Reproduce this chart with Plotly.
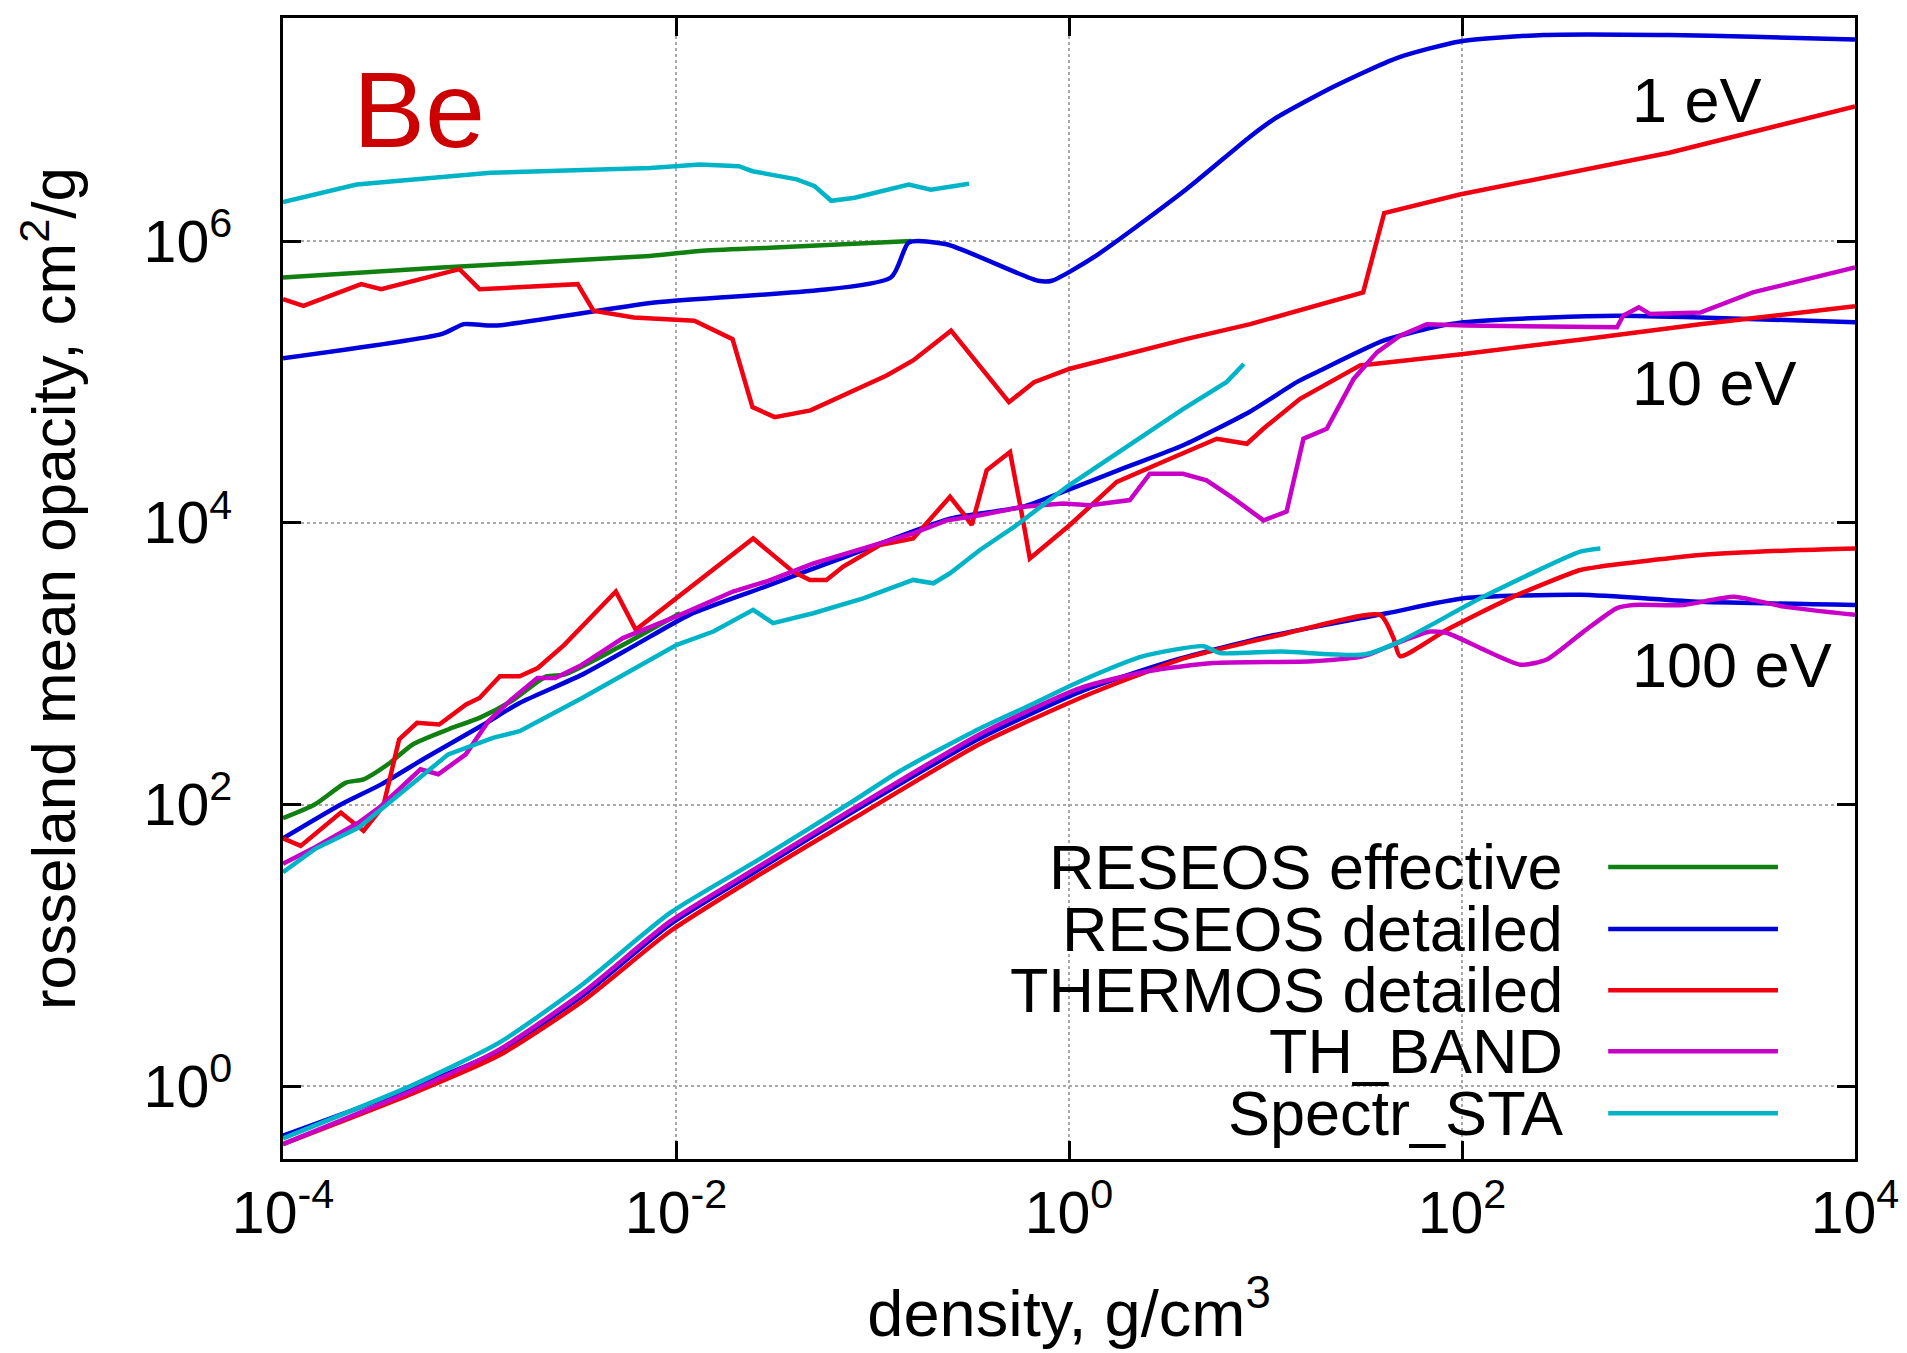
import plotly.graph_objects as go

# ---------------- data ----------------
# density in g/cm^3, Rosseland mean opacity in cm^2/g

# ===== T = 1 eV =====
eff_1_rho = [1e-4, 6.43e-4, 7.36e-3, 1.32e-2, 3.0e-2, 0.158]
eff_1_kap = [5.51e5, 6.49e5, 7.83e5, 8.51e5, 8.97e5, 1.0e6]

det_1_rho = [1e-4, 6.46e-4, 8.32e-4, 1.2e-3, 7.41e-3, 0.124, 0.153, 0.238, 0.695, 0.818,
             1.37, 3.94, 8.34, 11.2, 22.3, 46.6, 97.3, 259, 1135, 3040, 1e4]
det_1_kap = [1.47e5, 2.19e5, 2.57e5, 2.51e5, 3.63e5, 5.51e5, 9.77e5, 9.48e5, 5.22e5, 5.22e5,
             7.85e5, 2.32e6, 5.5e6, 7.41e6, 1.25e7, 1.99e7, 2.61e7, 2.9e7, 2.9e7, 2.82e7, 2.69e7]

thm_1_rho = [1e-4, 1.27e-4, 2.5e-4, 3.16e-4, 7.91e-4, 1e-3, 3.16e-3, 3.8e-3, 6.1e-3, 1.24e-2,
             1.94e-2, 2.45e-2, 3.18e-2, 4.84e-2, 0.118, 0.161, 0.251, 0.495, 0.664, 1.01,
             3.93, 8.36, 31.4, 40.2, 97.3, 1135, 1e4]
thm_1_kap = [3.86e5, 3.47e5, 4.94e5, 4.55e5, 6.31e5, 4.55e5, 4.94e5, 3.2e5, 2.87e5, 2.72e5,
             2.01e5, 6.62e4, 5.62e4, 6.28e4, 1.11e5, 1.42e5, 2.31e5, 7.18e4, 9.95e4, 1.24e5,
             2.01e5, 2.57e5, 4.32e5, 1.58e6, 2.14e6, 4.23e6, 9.04e6]

sta_1_rho = [1e-4, 2.37e-4, 1.14e-3, 7.4e-3, 1.32e-2, 2.09e-2, 2.45e-2, 4.12e-2, 5.08e-2,
             6.17e-2, 8.13e-2, 0.153, 0.198, 0.31]
sta_1_kap = [1.89e6, 2.52e6, 3.05e6, 3.30e6, 3.49e6, 3.40e6, 3.13e6, 2.74e6, 2.45e6,
             1.93e6, 2.03e6, 2.52e6, 2.31e6, 2.55e6]

# ===== T = 10 eV =====
eff_10_rho = [1e-4, 1.45e-4, 2.09e-4, 2.57e-4, 3.51e-4, 4.57e-4, 6.92e-4, 1e-3, 1.45e-3,
              2.19e-3, 2.7e-3, 5.01e-3, 1.05e-2]
eff_10_kap = [80, 100, 143, 151, 198, 267, 341, 412, 541, 813, 836, 1290, 2280]

det_10_rho = [1e-4, 1.97e-4, 3.16e-4, 5.32e-4, 1.05e-3, 1.6e-3, 3.33e-3, 6.24e-3, 1.17e-2,
              2.7e-2, 7.67e-2, 0.248, 0.583, 0.975, 1.97, 3.81, 8.36, 14.5, 18.2, 39.8,
              71.6, 102, 281, 615, 1630, 1e4]
det_10_kap = [57.5, 100, 139, 215, 370, 526, 836, 1360, 2220, 3430, 5900, 1.07e4, 1.3e4,
              1.7e4, 2.49e4, 3.55e4, 6.17e4, 1.0e5, 1.17e5, 1.96e5, 2.44e5, 2.65e5,
              2.87e5, 2.95e5, 2.87e5, 2.65e5]

thm_10_rho = [1e-4, 1.23e-4, 1.97e-4, 2.31e-4, 2.57e-4, 3.24e-4, 3.9e-4, 4.81e-4, 6.24e-4,
              8.55e-4, 1e-3, 1.27e-3, 1.6e-3, 1.98e-3, 2.7e-3, 4.94e-3, 6.24e-3, 2.47e-2,
              3.94e-2, 4.8e-2, 5.83e-2, 7.1e-2, 0.109, 0.161, 0.248, 0.29, 0.32, 0.381,
              0.501, 0.585, 0.632, 1.01, 1.75, 3.14, 5.65, 8.04, 9.75, 15.0, 30.3, 35.5,
              102, 416, 1630, 1e4]
thm_10_kap = [57.5, 50.9, 87.7, 72.4, 65, 97.7, 290, 380, 370, 513, 571, 813, 813, 931,
              1360, 3250, 1740, 7740, 4500, 3930, 3930, 4890, 6950, 7740, 1.53e4, 1.16e4,
              9640, 2.36e4, 3.18e4, 1.02e4, 5580, 9640, 1.95e4, 2.78e4, 3.95e4, 3.64e4,
              4.65e4, 7.59e4, 1.31e5, 1.34e5, 1.58e5, 2.01e5, 2.57e5, 3.44e5]

band_10_rho = [1e-4, 1.45e-4, 2.43e-4, 3.16e-4, 5.01e-4, 6.17e-4, 8.51e-4, 1.11e-3, 1.45e-3,
               1.97e-3, 2.43e-3, 3.33e-3, 5.37e-3, 1.05e-2, 1.95e-2, 2.88e-2, 5.01e-2,
               8.97e-2, 0.161, 0.239, 0.352, 0.585, 0.933, 1.28, 2.04, 2.58, 3.8, 5.01,
               6.87, 9.77, 12.8, 15.6, 20.5, 28.1, 36.9, 48.4, 66.2, 106, 615, 661, 794,
               908, 1630, 3020, 1e4]
band_10_kap = [38, 49.5, 74.5, 97.7, 178, 164, 227, 391, 556, 791, 791, 984, 1520, 2220,
               3250, 3830, 5150, 6580, 8410, 1.04e4, 1.13e4, 1.3e4, 1.37e4, 1.33e4, 1.45e4,
               2.23e4, 2.23e4, 2.0e4, 1.49e4, 1.04e4, 1.2e4, 3.95e4, 4.65e4, 1.05e5, 1.62e5,
               2.13e5, 2.57e5, 2.51e5, 2.44e5, 2.95e5, 3.38e5, 3.03e5, 3.11e5, 4.32e5, 6.49e5]

sta_10_rho = [1e-4, 1.45e-4, 2.43e-4, 6.93e-4, 1.17e-3, 1.6e-3, 3.33e-3, 5.82e-3, 1.01e-2,
              1.55e-2, 2.47e-2, 3.12e-2, 4.99e-2, 8.97e-2, 0.161, 0.204, 0.248, 0.352,
              0.542, 0.975, 3.82, 6.35, 7.76]
sta_10_kap = [33.1, 48.3, 68.7, 227, 297, 332, 571, 881, 1360, 1690, 2410, 1940, 2280,
              2910, 3930, 3720, 4380, 6410, 9640, 1.8e4, 6.44e4, 1.0e5, 1.34e5]

# ===== T = 100 eV =====
det_100_rho = [1e-4, 4.57e-4, 1.26e-3, 3.39e-3, 9.33e-3, 2.57e-2, 7.98e-2, 0.352, 1.14,
               3.16, 10, 41.5, 102, 400, 1630, 1e4]
det_100_kap = [0.447, 0.977, 1.78, 4.47, 14.1, 33.9, 89.1, 295, 631, 1020, 1550, 2280,
               2910, 3080, 2750, 2610]

thm_100_rho = [1e-4, 4.57e-4, 1.26e-3, 3.39e-3, 9.33e-3, 2.57e-2, 7.98e-2, 0.352, 1.14,
               2.05, 3.67, 6.11, 11.9, 38.3, 44.8, 48.4, 83.8, 183, 400, 506, 1630, 5270, 1e4]
thm_100_kap = [0.389, 0.891, 1.66, 4.07, 12.6, 30.9, 79.4, 269, 571, 791, 1070, 1290, 1600,
               2220, 1520, 1130, 1740, 2990, 4620, 4890, 5900, 6410, 6580]

band_100_rho = [1e-4, 4.57e-4, 1.26e-3, 3.39e-3, 9.33e-3, 2.57e-2, 7.98e-2, 0.352, 1.14,
                2.49, 5.43, 17.5, 31.6, 46.7, 68.9, 83.8, 124, 198, 270, 416, 615, 746,
                1340, 2420, 4340, 1e4]
band_100_kap = [0.389, 0.933, 1.82, 4.68, 14.8, 35.5, 93.3, 316, 671, 881, 1010, 1040, 1130,
                1400, 1690, 1650, 1290, 984, 1070, 1690, 2480, 2610, 2610, 2990, 2540, 2220]

sta_100_rho = [1e-4, 4.57e-4, 1.26e-3, 3.39e-3, 9.33e-3, 2.57e-2, 7.98e-2, 0.138, 0.352,
               0.622, 1.14, 2.39, 4.83, 5.87, 11.9, 31.6, 48.4, 124, 400, 506]
sta_100_kap = [0.427, 1.02, 2.04, 5.37, 17.0, 39.8, 106, 173, 347, 501, 750, 1130, 1330,
               1190, 1220, 1160, 1440, 2910, 6240, 6580]

# legend / model names and temperature labels
model_names = ["RESEOS effective", "RESEOS detailed", "THERMOS detailed", "TH_BAND", "Spectr_STA"]
temp_labels = ["1 eV", "10 eV", "100 eV"]
x_tick_vals = [1e-4, 1e-2, 1e0, 1e2, 1e4]
x_tick_text = ["10<sup>-4</sup>", "10<sup>-2</sup>", "10<sup>0</sup>", "10<sup>2</sup>", "10<sup>4</sup>"]
y_tick_vals = [1e0, 1e2, 1e4, 1e6]
y_tick_text = ["10<sup>0</sup>", "10<sup>2</sup>", "10<sup>4</sup>", "10<sup>6</sup>"]

# ---------------- styling ----------------
colors = {
    "RESEOS effective": "#108010",
    "RESEOS detailed": "#0000dc",
    "THERMOS detailed": "#f00010",
    "TH_BAND": "#c800c8",
    "Spectr_STA": "#00b4c8",
}
FONT = "Liberation Sans, Arial, Helvetica, sans-serif"
LW = 4.5

series = [
    # (model, rho, kappa, smooth)
    ("RESEOS effective", eff_1_rho, eff_1_kap, True),
    ("RESEOS effective", eff_10_rho, eff_10_kap, True),
    ("RESEOS detailed", det_1_rho, det_1_kap, True),
    ("RESEOS detailed", det_10_rho, det_10_kap, True),
    ("RESEOS detailed", det_100_rho, det_100_kap, True),
    ("THERMOS detailed", thm_1_rho, thm_1_kap, False),
    ("THERMOS detailed", thm_10_rho, thm_10_kap, False),
    ("THERMOS detailed", thm_100_rho, thm_100_kap, True),
    ("TH_BAND", band_10_rho, band_10_kap, False),
    ("TH_BAND", band_100_rho, band_100_kap, True),
    ("Spectr_STA", sta_1_rho, sta_1_kap, False),
    ("Spectr_STA", sta_10_rho, sta_10_kap, False),
    ("Spectr_STA", sta_100_rho, sta_100_kap, True),
]

fig = go.Figure()
for name, rho, kap, smooth in series:
    line = dict(color=colors[name], width=LW)
    if smooth:
        line.update(shape="spline", smoothing=0.6)
    fig.add_trace(go.Scatter(x=rho, y=kap, mode="lines", line=line, name=name,
                             showlegend=False, hoverinfo="skip"))

W, H = 1907, 1353
# the page body adds an 8px offset, margins compensate for it
ML, MR, MT, MB = 275, 60, 7, 202

annotations = []
shapes = []
key_rows_y = [0.256, 0.2015, 0.148, 0.0945, 0.040]
for name, yk in zip(model_names, key_rows_y):
    annotations.append(dict(x=0.8156, y=yk, xref="paper", yref="paper", text=name,
                            showarrow=False, xanchor="right", yanchor="middle",
                            font=dict(family=FONT, size=63, color="black")))
    shapes.append(dict(type="line", xref="paper", yref="paper", x0=0.843, x1=0.951,
                       y0=yk, y1=yk, line=dict(color=colors[name], width=LW)))

for lab, yt in zip(temp_labels, [0.928, 0.680, 0.433]):
    annotations.append(dict(x=0.857, y=yt, xref="paper", yref="paper", text=lab,
                            showarrow=False, xanchor="left", yanchor="middle",
                            font=dict(family=FONT, size=63, color="black")))

annotations.append(dict(x=0.043, y=0.92, xref="paper", yref="paper", text="Be",
                        showarrow=False, xanchor="left", yanchor="middle",
                        font=dict(family=FONT, size=108, color="#cc0000")))

axis_common = dict(
    type="log", showline=True, linecolor="black", linewidth=3, mirror="allticks",
    ticks="inside", ticklen=18, tickwidth=2.5, tickcolor="black",
    showgrid=True, gridcolor="#a8a8a8", gridwidth=1.5, griddash="dot",
    zeroline=False, tickfont=dict(family=FONT, size=59, color="black"),
)

fig.update_layout(
    width=W, height=H,
    margin=dict(l=ML, r=MR, t=MT, b=MB),
    paper_bgcolor="white", plot_bgcolor="white",
    font=dict(family=FONT, color="black"),
    showlegend=False,
    xaxis=dict(axis_common, range=[-4, 4], tickmode="array", tickvals=x_tick_vals,
               ticktext=x_tick_text,
               title=dict(text="density, g/cm<sup>3</sup>", font=dict(family=FONT, size=65),
                          standoff=46)),
    yaxis=dict(axis_common, range=[-0.516, 7.583], tickmode="array", tickvals=y_tick_vals,
               ticktext=y_tick_text, ticklabelstandoff=36,
               title=dict(text="rosseland mean opacity, cm<sup>2</sup>/g",
                          font=dict(family=FONT, size=62), standoff=48)),
    annotations=annotations,
    shapes=shapes,
)

fig.write_html("out.html")
